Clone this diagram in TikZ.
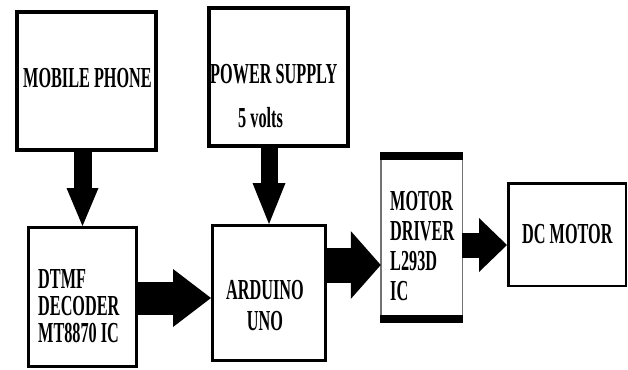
\documentclass[tikz,border=0pt]{standalone}
\usepackage{fontspec}
\setmainfont{Liberation Serif}[FakeStretch=0.56]
\usetikzlibrary{arrows.meta}
\begin{document}
\begin{tikzpicture}[x=1pt,y=-1pt,
  box/.style={draw=black, line width=#1, inner sep=0pt},
  lbl/.style={inner sep=0pt, font=\bfseries\fontsize{29}{27}\selectfont},
  bigarrow/.style n args={4}{draw=black, line width=#1,
    -{Triangle[length=#2pt, width=#3pt, line width=0pt]}, shorten >=#4pt}]
\useasboundingbox (0,0) rectangle (628,369);
\fill[white] (0,0) rectangle (628,369);
% boxes
\node[box=4pt, minimum width=139pt, minimum height=138pt] (mobile) at (86.5,81) {};
\node[box=4pt, minimum width=139pt, minimum height=138pt] (power) at (278.5,77) {};
\node[box=3pt, minimum width=108pt, minimum height=139pt] (dtmf) at (82.5,297) {};
\node[box=3pt, minimum width=113pt, minimum height=135pt] (arduino) at (269,293) {};
\node[draw=black!55, line width=1.5pt, inner sep=0pt, outer sep=0pt,
      minimum width=81.5pt, minimum height=163pt] (md) at (421.5,237.5) {};
\draw[line width=8pt] ([xshift=-0.75pt]md.north west) -- ([xshift=0.75pt]md.north east);
\draw[line width=8pt] ([xshift=-0.75pt]md.south west) -- ([xshift=0.75pt]md.south east);
\node[box=2.5pt, minimum width=117.5pt, minimum height=102.5pt] (dc) at (567,234.5) {};
% texts
\node[lbl, anchor=base west] (mobiletxt) at (23,87) {MOBILE PHONE};
\node[lbl, anchor=base west] (powertxt) at (210,83) {POWER SUPPLY};
\node[lbl, anchor=base west] (voltstxt) at (238,127) {5 volts};
\node[lbl, anchor=base west] (dtmftxt) at (38,288)
  {\begin{tabular}[t]{@{}l@{}}DTMF\\DECODER\\MT8870 IC\end{tabular}};
\node[lbl, font=\bfseries\fontsize{29}{31}\selectfont, anchor=base] (ardtxt) at (265,299)
  {\begin{tabular}[t]{@{}c@{}}ARDUINO\\UNO\end{tabular}};
\node[lbl, font=\bfseries\fontsize{29}{30}\selectfont, anchor=base west] (mdtxt) at (390,210)
  {\begin{tabular}[t]{@{}l@{}}MOTOR\\DRIVER\\L293D\\IC\end{tabular}};
\node[lbl, anchor=base west] (dctxt) at (522,243) {DC MOTOR};
% helper levels for horizontal arrows
\coordinate (y298) at (0,298);
\coordinate (y265) at (0,265);
\coordinate (y245) at (0,245);
% arrows
\draw[bigarrow={18pt}{38}{32}{0}] (mobile.south -| dtmf.north) -- (dtmf.north);
\draw[bigarrow={17pt}{41}{33}{0}] (power.south -| arduino.north) -- (arduino.north);
\draw[bigarrow={33pt}{38}{58}{0}] (dtmf.east |- y298) -- (arduino.west |- y298);
\draw[bigarrow={35pt}{30}{68}{0}] (arduino.east |- y265) -- (md.west |- y265);
\draw[bigarrow={25pt}{28}{54}{0}] (md.east |- y245) -- (dc.west |- y245);
\end{tikzpicture}
\end{document}
